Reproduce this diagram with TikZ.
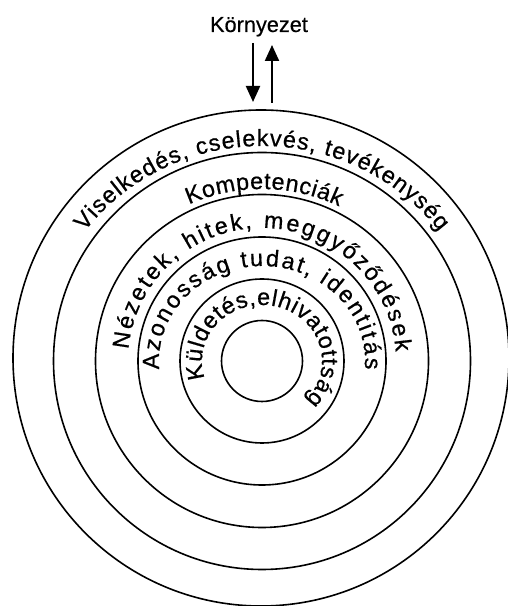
\documentclass[tikz,border=0pt]{standalone}
\usepackage{fontspec}
\setmainfont{Liberation Sans}
\newfontfamily\ringfont[FakeBold=0.6]{Liberation Sans}
\newfontfamily\envfont[FakeBold=0.4]{Liberation Sans}
\usetikzlibrary{decorations.text,arrows.meta}
\tikzset{
  ring/.style={draw=black, line width=1.2pt, circle, inner sep=0pt},
  arr/.style={line width=1.6pt, -{Triangle[width=10.5pt,length=12pt]}},
  ringtext/.style={decorate, decoration={text along path, text align=fit to path, text={|\ringfont\fontsize{17.5}{20}\selectfont|#1}}}
}
\begin{document}
\begin{tikzpicture}[x=0.75pt,y=0.75pt]
\fill[white] (0,0) rectangle (507,606);
\useasboundingbox (0,0) rectangle (507,606);
\coordinate (C) at (262,245);
\node[ring, minimum size=60.75pt] (r1) at (C) {};
\node[ring, minimum size=123pt] (r2) at (C) {};
\node[ring, minimum size=186pt] (r3) at (C) {};
\node[ring, minimum size=249.75pt] (r4) at (C) {};
\node[ring, minimum size=312.75pt] (r5) at (C) {};
\node[ring, minimum size=372pt] (r6) at (261,248) {};
% curved texts
\path[ringtext={Viselkedés, cselekvés, tevékenység}] (C) ++(143:222 and 215) arc[start angle=143, end angle=37, x radius=222, y radius=215];
\path[ringtext={Kompetenciák}] (C) ++(114.5:176 and 172) arc[start angle=114.5, end angle=64, x radius=176, y radius=172];
\path[ringtext={Nézetek, hitek, meggyőződések}] (C) ++(175:134 and 133) arc[start angle=175, end angle=4, x radius=134, y radius=133];
\path[ringtext={Azonosság tudat, identitás}] (C) ++(185:103 and 95) arc[start angle=185, end angle=-5, x radius=103, y radius=95];
\path[ringtext={Küldetés,elhivatottság}] (C) ++(198:60 and 56) arc[start angle=198, end angle=-44, x radius=60, y radius=56];
% environment
\node[anchor=base, font=\envfont\fontsize{16.3}{18}\selectfont, inner sep=0pt] (env) at (259,574) {Környezet};
\coordinate (d1) at (253,563);
\coordinate (d2) at (253,504);
\coordinate (u1) at (272,503);
\coordinate (u2) at (272,561);
\draw[arr] (d1) -- (d2);
\draw[arr] (u1) -- (u2);
\end{tikzpicture}
\end{document}
